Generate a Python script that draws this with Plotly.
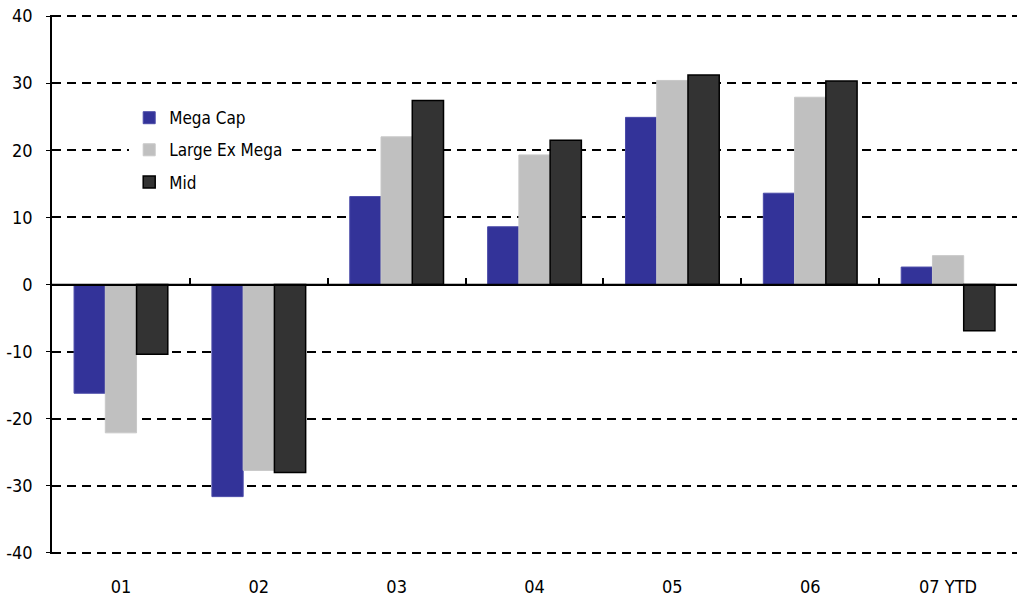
import plotly.graph_objects as go

categories = ["01", "02", "03", "04", "05", "06", "07 YTD"]
mega_cap = [-16.2, -31.6, 13.1, 8.6, 24.9, 13.6, 2.6]
large_ex_mega = [-22.1, -27.7, 22.0, 19.3, 30.4, 27.9, 4.3]
mid = [-10.4, -28.0, 27.4, 21.5, 31.2, 30.3, -6.9]
y_ticks = [-40, -30, -20, -10, 0, 10, 20, 30, 40]
y_ticktext = [str(v) for v in y_ticks]

FONT = "DejaVu Sans Condensed, Liberation Sans, sans-serif"

fig = go.Figure()
fig.add_trace(go.Bar(name="Mega Cap", x=categories, y=mega_cap, legendgroup="a",
                     marker=dict(color="#333399", line=dict(color="#4a4aa8", width=1))))
fig.add_trace(go.Bar(name="Large Ex Mega", x=categories, y=large_ex_mega, legendgroup="b",
                     marker=dict(color="#c0c0c0", line=dict(color="#c8c8c8", width=1))))
fig.add_trace(go.Bar(name="Mid", x=categories, y=mid, legendgroup="c",
                     marker=dict(color="#333333", line=dict(color="#000000", width=1.5))))

# trace carrying the zero-line axis with boundary ticks
fig.add_trace(go.Scatter(x=[-0.5, len(categories) - 0.5], y=[0, 0], xaxis="x2",
                         mode="lines", line=dict(color="black", width=1.5),
                         showlegend=False, hoverinfo="skip"))

fig.update_layout(
    width=1021, height=604,
    margin=dict(l=52, r=4, t=15, b=50),
    paper_bgcolor="white", plot_bgcolor="white",
    barmode="group", bargap=0.32, bargroupgap=0.0,
    font=dict(family=FONT, color="black"),
    legend=dict(x=0.08, y=0.842, xanchor="left", yanchor="top",
                font=dict(family=FONT, size=17, color="black"),
                bgcolor="white", traceorder="grouped", tracegroupgap=7),
    xaxis=dict(type="category", showgrid=False, showline=False, ticks="",
               tickfont=dict(family=FONT, size=18), ticklabelstandoff=20),
    xaxis2=dict(overlaying="x", anchor="free", position=0.5, range=[-0.5, len(categories) - 0.5],
                showgrid=False, showline=True, linecolor="black", linewidth=1.5,
                ticks="inside", ticklen=6, tickcolor="black", tickwidth=1.5,
                tickvals=[i + 0.5 for i in range(-1, len(categories))],
                showticklabels=False, zeroline=False),
    yaxis=dict(range=[-40.15, 40.15], tickvals=y_ticks, ticktext=y_ticktext,
               showgrid=True, gridcolor="black",
               gridwidth=1.6, griddash="9px,6px", zeroline=False,
               showline=True, linecolor="black", linewidth=1.5,
               ticks="outside", ticklen=4, tickcolor="black",
               tickfont=dict(family=FONT, size=18), ticklabelstandoff=10),
)

fig.write_html("out.html")
